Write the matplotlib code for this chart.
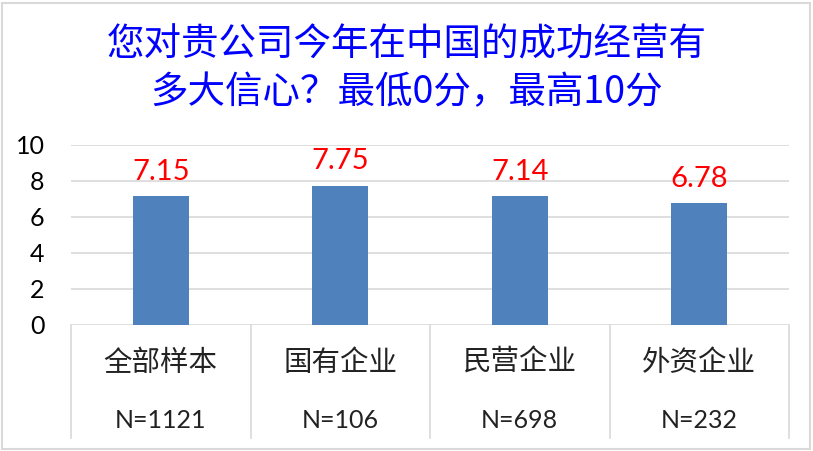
import matplotlib.pyplot as plt
from matplotlib.patches import Rectangle

plt.rcParams['font.family'] = ['Noto Sans CJK SC', 'DejaVu Sans']

categories = ['全部样本', '国有企业', '民营企业', '外资企业']
sample_sizes = ['N=1121', 'N=106', 'N=698', 'N=232']
scores = [7.15, 7.75, 7.14, 6.78]
title = '您对贵公司今年在中国的成功经营有\n多大信心？最低0分，最高10分'
num_font = ['Lato', 'DejaVu Sans']

W, H = 813, 451
fig = plt.figure(figsize=(W / 100, H / 100), dpi=100)
fig.patches.append(Rectangle((2 / W, 2 / H), 1 - 5 / W, 1 - 5 / H, transform=fig.transFigure,
                             fill=False, edgecolor='#D9D9D9', linewidth=1.5))

# plot area in pixels: x 71..789, y 145..325
ax = fig.add_axes([71 / W, (H - 325) / H, (789 - 71) / W, 180 / H])
x = range(len(categories))
ax.bar(x, scores, width=0.31, color='#4F81BD', zorder=3)
ax.set_xlim(-0.5, len(categories) - 0.5)
ax.set_ylim(0, 10)
ax.set_yticks(range(0, 11, 2))
ax.tick_params(axis='y', length=0, pad=19, labelsize=18)
ax.tick_params(axis='x', length=0, labelbottom=False)
for t in ax.get_yticklabels():
    t.set_family(num_font)
ax.grid(axis='y', color='#D9D9D9', linewidth=1.2, zorder=0)
for s in ax.spines.values():
    s.set_visible(False)

for i, v in enumerate(scores):
    ax.annotate(f'{v:.2f}', (i, v), xytext=(0, 8), textcoords='offset points',
                ha='center', va='bottom', color='#FF0000', fontsize=21,
                family=num_font)

trans = ax.get_xaxis_transform()
for i in range(len(categories) + 1):
    ax.plot([i - 0.5, i - 0.5], [0, -0.63], transform=trans, color='#D9D9D9',
            linewidth=1.2, clip_on=False)
for i, (c, n) in enumerate(zip(categories, sample_sizes)):
    ax.text(i, -0.21, c, transform=trans, ha='center', va='center', fontsize=20.5,
            color='#222222')
    ax.text(i, -0.53, n, transform=trans, ha='center', va='center', fontsize=18,
            color='#222222', family=num_font)

fig.text(0.5, 1 - 69 / H, title, ha='center', va='center', color='#0000FF',
         fontsize=27, linespacing=1.3)

fig.savefig('out.png', dpi=100)
